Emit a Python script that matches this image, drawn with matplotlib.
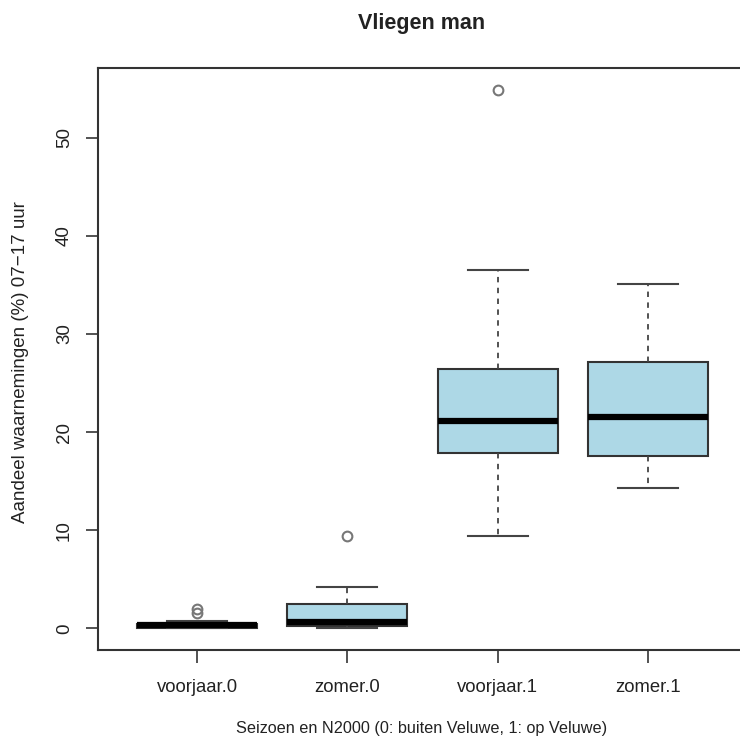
import matplotlib.pyplot as plt

plt.rcParams['font.family'] = ['Liberation Sans', 'DejaVu Sans']

# groups and box statistics
labels = ['voorjaar.0', 'zomer.0', 'voorjaar.1', 'zomer.1']
q1 = [0.05, 0.2, 17.9, 17.6]
med = [0.3, 0.7, 21.1, 21.5]
q3 = [0.5, 2.45, 26.4, 27.1]
whislo = [0.0, 0.0, 9.45, 14.3]
whishi = [0.8, 4.2, 36.5, 35.1]
fliers = [[1.6, 2.0], [9.4], [54.9], []]

stats = []
for i in range(len(labels)):
    stats.append(dict(label=labels[i], q1=q1[i], med=med[i], q3=q3[i],
                      whislo=whislo[i], whishi=whishi[i], fliers=fliers[i]))

fig = plt.figure(figsize=(7.4, 7.44), dpi=100)
ax = fig.add_axes([98 / 740, 94 / 744, 649 / 740, 582 / 744])

ax.bxp(stats, positions=[1, 2, 3, 4], widths=0.8, patch_artist=True,
       boxprops=dict(facecolor='#add8e6', edgecolor='#333333', linewidth=1.5),
       medianprops=dict(color='black', linewidth=4.5, solid_capstyle='butt'),
       whiskerprops=dict(color='#444444', linewidth=1.3, linestyle=(0, (3, 3))),
       capprops=dict(color='#444444', linewidth=1.5),
       flierprops=dict(marker='o', markerfacecolor='none', markeredgecolor='#777777',
                       markersize=7, markeredgewidth=1.5),
       capwidths=0.4)

ax.set_xlim(0.34, 4.66)
ax.set_ylim(-2.2, 57.1)
ax.set_yticks([0, 10, 20, 30, 40, 50])
ax.set_xticks([1, 2, 3, 4])
ax.set_xticklabels(labels)
for s in ax.spines.values():
    s.set_color('#333333')
    s.set_linewidth(1.5)
ax.tick_params(axis='both', direction='out', length=9, width=1.3, color='#444444',
               labelcolor='#222222')
ax.tick_params(axis='x', pad=12, labelsize=13.3)
ax.tick_params(axis='y', pad=9, labelsize=13.5)
for t in ax.get_yticklabels():
    t.set_rotation(90)
    t.set_va('center')

ax.set_xlabel('Seizoen en N2000 (0: buiten Veluwe, 1: op Veluwe)', fontsize=11.7,
              color='#222222', va='center')
ax.xaxis.set_label_coords((422 - 98) / 649, -(728 - 650) / 582)
ax.set_ylabel('Aandeel waarnemingen (%) 07\u221217 uur', fontsize=13.5, color='#222222',
              va='center')
ax.yaxis.set_label_coords(-(98 - 21) / 649, (650 - 362) / 582)
fig.text(422 / 740, 1 - 23 / 744, 'Vliegen man', ha='center', va='center',
         fontsize=15.5, fontweight='bold', color='#222222')

fig.savefig('out.png', dpi=100)
